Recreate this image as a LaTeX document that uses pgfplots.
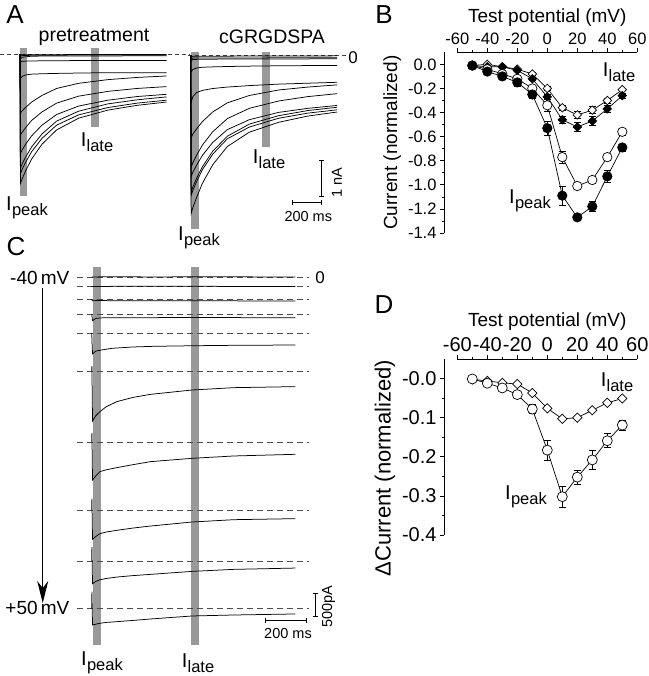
\documentclass[border=0pt]{standalone}
\usepackage{fontspec}
\setmainfont{Liberation Sans}
\usepackage{pgfplots}
\pgfplotsset{compat=1.18}
\usetikzlibrary{arrows.meta}

\newcommand{\fs}[1]{\fontsize{#1}{#1}\selectfont}
\newcommand{\Isub}[1]{{\fs{20}I\kern0.3pt\raisebox{-0.45ex}{\fs{16.5}#1}}}
\definecolor{barcol}{gray}{0.60}

\pgfplotsset{
  cell/.style={hide axis, clip=false, anchor=south west},
  bar/.style={fill=barcol, draw=none},
  trace/.style={black, line width=0.75pt, no marks},
  zero/.style={black!75, line width=0.55pt, dash pattern=on 4pt off 3pt, no marks},
  zeroC/.style={black!70, line width=0.6pt, dash pattern=on 6pt off 4pt, no marks},
  ser/.style={black, line width=0.7pt,
    error bars/y dir=both, error bars/y explicit,
    error bars/error bar style={line width=0.7pt},
    error bars/error mark options={rotate=90, mark size=3.5pt, line width=0.7pt}},
  ivplot/.style={
    scale only axis, anchor=south west, clip=false,
    xmin=-60, xmax=60,
    axis x line=top, axis y line=left, axis line style={-, line width=0.7pt},
    axis y line shift=13.3pt,
    xtick={-60,-40,-20,0,20,40,60}, minor xtick={-50,-30,-10,10,30,50},
    tick align=outside, major tick length=4pt, minor tick length=2.5pt,
    tick style={line width=0.7pt, black},
    /pgf/number format/assume math mode=true,
    xlabel={Test potential (mV)},
    label style={font=\fs{19}},
  },
}

\begin{document}
\begin{tikzpicture}
\useasboundingbox (0pt,0pt) rectangle (648pt,-676pt);

% ---------- A: pretreatment
\begin{axis}[cell, x=0.1465pt, y=36.7pt, xmin=-136.5, xmax=1160, ymin=-4.4, ymax=0.4,
  at={(0pt,-215.8pt)}]
\addplot[bar] coordinates {(0,0.18)(50,0.18)(50,-3.86)(0,-3.86)};
\addplot[bar] coordinates {(485,0.18)(539,0.18)(539,-1.99)(485,-1.99)};
\addplot[zero] coordinates {(-136.5,0)(1160,0)};
\addplot[trace] coordinates {(0,0)(3,-3.52)(15,-3.39)(40,-3.16)(80,-2.85)(150,-2.45)(250,-2.06)(400,-1.74)(600,-1.52)(800,-1.39)(1000,-1.30)};
\addplot[trace] coordinates {(0,0)(3,-3.25)(15,-3.13)(40,-2.93)(80,-2.65)(150,-2.29)(250,-1.93)(400,-1.65)(600,-1.45)(800,-1.33)(1000,-1.25)};
\addplot[trace] coordinates {(0,0)(3,-3.10)(15,-2.98)(40,-2.79)(80,-2.52)(150,-2.17)(250,-1.82)(400,-1.55)(600,-1.35)(800,-1.24)(1000,-1.16)};
\addplot[trace] coordinates {(0,0)(3,-2.70)(15,-2.60)(40,-2.44)(80,-2.22)(150,-1.93)(250,-1.64)(400,-1.41)(600,-1.25)(800,-1.15)(1000,-1.09)};
\addplot[trace] coordinates {(0,0)(3,-2.20)(15,-2.12)(40,-1.99)(80,-1.80)(150,-1.57)(250,-1.33)(400,-1.14)(600,-1.01)(800,-0.93)(1000,-0.88)};
\addplot[trace] coordinates {(0,0)(3,-1.60)(15,-1.54)(40,-1.44)(80,-1.30)(150,-1.12)(250,-0.93)(400,-0.79)(600,-0.69)(800,-0.63)(1000,-0.59)};
\addplot[trace] coordinates {(0,0)(3,-0.66)(15,-0.60)(40,-0.56)(80,-0.54)(150,-0.53)(250,-0.52)(400,-0.51)(600,-0.50)(1000,-0.50)};
\addplot[trace] coordinates {(0,0)(3,-0.21)(15,-0.19)(80,-0.18)(400,-0.17)(1000,-0.17)};
\addplot[trace] coordinates {(0,0)(3,-0.12)(15,-0.08)(80,-0.05)(400,-0.045)(1000,-0.04)};
\addplot[trace] coordinates {(0,0)(3,-0.05)(20,-0.03)(400,-0.02)(1000,-0.02)};
\addplot[trace] coordinates {(0,0)(3,-0.02)(20,-0.01)(1000,-0.005)};
\end{axis}

% ---------- A: cGRGDSPA
\begin{axis}[cell, x=0.1465pt, y=36.7pt, xmin=-20, xmax=1100, ymin=-5, ymax=0.4,
  at={(187.77pt,-239pt)}]
\addplot[bar] coordinates {(0,0.1)(59,0.1)(59,-4.74)(0,-4.74)};
\addplot[bar] coordinates {(487,0.1)(541,0.1)(541,-2.50)(487,-2.50)};
\addplot[zero] coordinates {(-20,0)(1067,0)};
\addplot[trace] coordinates {(0,0)(3,-4.31)(15,-4.14)(40,-3.87)(80,-3.48)(150,-2.98)(250,-2.48)(400,-2.09)(600,-1.82)(800,-1.65)(1000,-1.54)};
\addplot[trace] coordinates {(0,0)(3,-3.81)(15,-3.67)(40,-3.44)(80,-3.11)(150,-2.69)(250,-2.27)(400,-1.95)(600,-1.71)(800,-1.57)(1000,-1.48)};
\addplot[trace] coordinates {(0,0)(3,-3.72)(15,-3.58)(40,-3.35)(80,-3.03)(150,-2.61)(250,-2.20)(400,-1.87)(600,-1.64)(800,-1.50)(1000,-1.41)};
\addplot[trace] coordinates {(0,0)(3,-3.30)(15,-3.18)(40,-2.99)(80,-2.72)(150,-2.37)(250,-2.02)(400,-1.75)(600,-1.55)(800,-1.44)(1000,-1.36)};
\addplot[trace] coordinates {(0,0)(3,-3.04)(15,-2.92)(40,-2.72)(80,-2.44)(150,-2.08)(250,-1.72)(400,-1.44)(600,-1.24)(800,-1.12)(1000,-1.04)};
\addplot[trace] coordinates {(0,0)(3,-2.23)(15,-2.14)(40,-2.00)(80,-1.80)(150,-1.54)(250,-1.29)(400,-1.09)(600,-0.94)(800,-0.86)(1000,-0.80)};
\addplot[trace] coordinates {(0,0)(3,-1.27)(15,-1.12)(40,-1.01)(80,-0.95)(150,-0.90)(250,-0.86)(400,-0.82)(600,-0.78)(1000,-0.73)};
\addplot[trace] coordinates {(0,0)(3,-0.45)(15,-0.38)(40,-0.34)(80,-0.32)(150,-0.31)(250,-0.30)(400,-0.29)(600,-0.28)(1000,-0.27)};
\addplot[trace] coordinates {(0,0)(3,-0.14)(15,-0.11)(80,-0.10)(1000,-0.09)};
\addplot[trace] coordinates {(0,0)(3,-0.09)(15,-0.07)(1000,-0.06)};
\addplot[trace] coordinates {(0,0)(3,-0.04)(15,-0.02)(1000,-0.01)};
\end{axis}

% ---------- C: traces, -40 to +50 mV
\begin{axis}[cell, x=0.205pt, y=0.0467pt, xmin=-80, xmax=1100, ymin=-8000, ymax=350,
  at={(75.3pt,-650.9pt)}]
\addplot[bar] coordinates {(8,227)(44,227)(44,-7874)(8,-7874)};
\addplot[bar] coordinates {(484,227)(525,227)(525,-7874)(484,-7874)};
\addplot[zeroC] coordinates {(-73,0)(1061,0)};
\addplot[zeroC] coordinates {(-73,-201)(1061,-201)};
\addplot[zeroC] coordinates {(-73,-471)(1061,-471)};
\addplot[zeroC] coordinates {(-73,-786)(1061,-786)};
\addplot[zeroC] coordinates {(-73,-1193)(1061,-1193)};
\addplot[zeroC] coordinates {(-73,-2013)(1061,-2013)};
\addplot[zeroC] coordinates {(-73,-3533)(1061,-3533)};
\addplot[zeroC] coordinates {(-73,-4990)(1061,-4990)};
\addplot[zeroC] coordinates {(-73,-6083)(1061,-6083)};
\addplot[zeroC] coordinates {(-73,-7088)(1061,-7088)};
\addplot[trace] coordinates {(0,0)(3,8)(100,12)(300,8)(600,12)(994,6)};
\addplot[trace] coordinates {(0,-201)(3,-196)(200,-192)(500,-194)(994,-195)};
\addplot[trace] coordinates {(0,-471)(3,-505)(20,-498)(100,-500)(500,-503)(994,-507)};
\addplot[trace] coordinates {(0,-786)(4,-929)(20,-880)(50,-868)(122,-865)(500,-862)(994,-865)};
\addplot[trace] coordinates {(0,-1193)(4,-1640)(20,-1580)(50,-1555)(100,-1520)(200,-1492)(300,-1478)(500,-1465)(700,-1456)(994,-1450)};
\addplot[trace] coordinates {(0,-2013)(1,-1900)(4,-3077)(20,-2963)(40,-2877)(70,-2773)(122,-2663)(200,-2573)(287,-2506)(490,-2413)(693,-2363)(994,-2341)};
\addplot[trace] coordinates {(0,-3533)(1,-3330)(4,-4340)(20,-4253)(40,-4161)(70,-4123)(122,-4076)(200,-4013)(287,-3947)(490,-3876)(693,-3826)(994,-3790)};
\addplot[trace] coordinates {(0,-4990)(1,-4740)(4,-5611)(20,-5550)(40,-5490)(70,-5455)(122,-5418)(200,-5370)(287,-5326)(490,-5240)(693,-5190)(994,-5168)};
\addplot[trace] coordinates {(0,-6083)(1,-5780)(4,-6561)(20,-6513)(40,-6476)(70,-6450)(122,-6419)(200,-6388)(287,-6361)(490,-6297)(693,-6254)(994,-6226)};
\addplot[trace] coordinates {(0,-7088)(1,-6730)(4,-7445)(20,-7428)(40,-7409)(70,-7390)(122,-7374)(200,-7348)(287,-7316)(490,-7252)(693,-7231)(994,-7209)};
\end{axis}

% ---------- B: normalized I-V
\begin{axis}[ivplot, at={(457.3pt,-233pt)}, width=180pt, height=180.7pt,
  ymin=-1.4, ymax=0.1,
  ytick={-1.4,-1.2,-1.0,-0.8,-0.6,-0.4,-0.2,0},
  minor ytick={-1.3,-1.1,-0.9,-0.7,-0.5,-0.3,-0.1},
  yticklabel style={/pgf/number format/.cd, fixed, fixed zerofill, precision=1},
  tick label style={font=\fs{16.5}},
  ylabel={Current (normalized)}]
\addplot[ser, mark=square*, mark size=3pt, mark options={rotate=45, fill=white}]
  coordinates {(-50,-0.01)+-(0,0)(-40,0.0)+-(0,0)(-30,-0.02)+-(0,0.01)(-20,-0.04)+-(0,0.01)(-10,-0.08)+-(0,0.01)(0,-0.20)+-(0,0.02)(10,-0.36)+-(0,0.02)(20,-0.42)+-(0,0.03)(30,-0.38)+-(0,0.03)(40,-0.30)+-(0,0.02)(50,-0.21)+-(0,0.01)};
\addplot[ser, mark=square*, mark size=3pt, mark options={rotate=45, fill=black}]
  coordinates {(-50,-0.01)+-(0,0)(-40,-0.02)+-(0,0)(-30,-0.02)+-(0,0.01)(-20,-0.05)+-(0,0.01)(-10,-0.12)+-(0,0.01)(0,-0.27)+-(0,0.02)(10,-0.46)+-(0,0.03)(20,-0.52)+-(0,0.04)(30,-0.47)+-(0,0.04)(40,-0.37)+-(0,0.03)(50,-0.26)+-(0,0.02)};
\addplot[ser, mark=*, mark size=4.7pt, mark options={fill=white}]
  coordinates {(-50,-0.01)+-(0,0)(-40,-0.04)+-(0,0.01)(-30,-0.08)+-(0,0.01)(-20,-0.12)+-(0,0.02)(-10,-0.20)+-(0,0.02)(0,-0.34)+-(0,0.05)(10,-0.77)+-(0,0.05)(20,-1.01)+-(0,0.02)(30,-0.96)+-(0,0.01)(40,-0.77)+-(0,0.02)(50,-0.56)+-(0,0.03)};
\addplot[ser, mark=*, mark size=4.7pt, mark options={fill=black}]
  coordinates {(-50,-0.01)+-(0,0)(-40,-0.06)+-(0,0.01)(-30,-0.10)+-(0,0.01)(-20,-0.15)+-(0,0.03)(-10,-0.25)+-(0,0.03)(0,-0.53)+-(0,0.06)(10,-1.09)+-(0,0.08)(20,-1.27)+-(0,0.02)(30,-1.18)+-(0,0.04)(40,-0.93)+-(0,0.05)(50,-0.69)+-(0,0.03)};
\end{axis}

% ---------- D: difference
\begin{axis}[ivplot, at={(457.3pt,-535pt)}, width=180pt, height=176pt,
  ymin=-0.4, ymax=0.05,
  ytick={-0.4,-0.3,-0.2,-0.1,0},
  yticklabels={-0.4,-0.3,-0.2,-0.1,-0.0},
  minor ytick={-0.35,-0.25,-0.15,-0.05},
  tick label style={font=\fs{20}},
  ylabel style={font=\fs{22}, at={(ticklabel cs:0.38)}},
  ylabel={ΔCurrent (normalized)}]
\addplot[ser, mark=square*, mark size=3.3pt, mark options={rotate=45, fill=white}]
  coordinates {(-50,-0.002)(-40,-0.006)(-30,-0.011)(-20,-0.014)(-10,-0.037)(0,-0.076)(10,-0.103)(20,-0.100)(30,-0.081)(40,-0.062)(50,-0.051)};
\addplot[ser, mark=*, mark size=5pt, mark options={fill=white}]
  coordinates {(-50,-0.001)+-(0,0)(-40,-0.012)+-(0,0.003)(-30,-0.024)+-(0,0.004)(-20,-0.041)+-(0,0.008)(-10,-0.078)+-(0,0.012)(0,-0.183)+-(0,0.025)(10,-0.302)+-(0,0.027)(20,-0.252)+-(0,0.018)(30,-0.208)+-(0,0.025)(40,-0.159)+-(0,0.018)(50,-0.119)+-(0,0.013)};
\end{axis}

% ---------- annotations
\begin{scope}[x=1pt, y=1pt, line width=0.7pt]
\node[font=\fs{26}] at (15,-15) {A};
\node[font=\fs{26}] at (384,-15) {B};
\node[font=\fs{26}] at (16,-247) {C};
\node[font=\fs{26}] at (384,-305) {D};
\node[font=\fs{19.5}] at (94,-37) {pretreatment};
\node[font=\fs{19.5}] at (272,-37) {cGRGDSPA};
\node at (27,-208) {\Isub{peak}};
\node at (97,-142) {\Isub{late}};
\node at (199,-238) {\Isub{peak}};
\node at (269,-159) {\Isub{late}};
\node[font=\fs{17}] at (353,-58) {0};
\draw (321.7,-160) -- (321.7,-196.7);
\draw (319.2,-160) -- (324.2,-160);
\draw (319.2,-196.7) -- (324.2,-196.7);
\node[font=\fs{14.5}, rotate=90] at (337,-182.5) {1 nA};
\draw (292.3,-202.3) -- (321.7,-202.3);
\draw (292.3,-199.8) -- (292.3,-204.8);
\draw (321.7,-199.8) -- (321.7,-204.8);
\node[font=\fs{14.5}] at (308.3,-216.5) {200 ms};
% C
\node[font=\fs{19}, anchor=east] at (73,-277.5) {-40\,mV};
\node[font=\fs{19}, anchor=east] at (73,-608) {+50\,mV};
\node[font=\fs{17}] at (320,-278) {0};
\draw[line width=1pt, -{Stealth[length=22pt, width=11pt, inset=7pt]}] (42.7,-288) -- (42.7,-603);
\draw (315,-593.3) -- (315,-616.7);
\draw (312.5,-593.3) -- (317.5,-593.3);
\draw (312.5,-616.7) -- (317.5,-616.7);
\node[font=\fs{14.5}, rotate=90] at (328.5,-606.7) {500pA};
\draw (265.7,-620.7) -- (306.7,-620.7);
\draw (265.7,-618.2) -- (265.7,-623.2);
\draw (306.7,-618.2) -- (306.7,-623.2);
\node[font=\fs{14.5}] at (288,-634) {200 ms};
\node at (102,-663) {\Isub{peak}};
\node at (198,-663) {\Isub{late}};
% B, D labels
\node at (619,-72) {\Isub{late}};
\node at (530,-201) {\Isub{peak}};
\node at (617,-382) {\Isub{late}};
\node at (526,-497) {\Isub{peak}};
\end{scope}
\end{tikzpicture}
\end{document}
